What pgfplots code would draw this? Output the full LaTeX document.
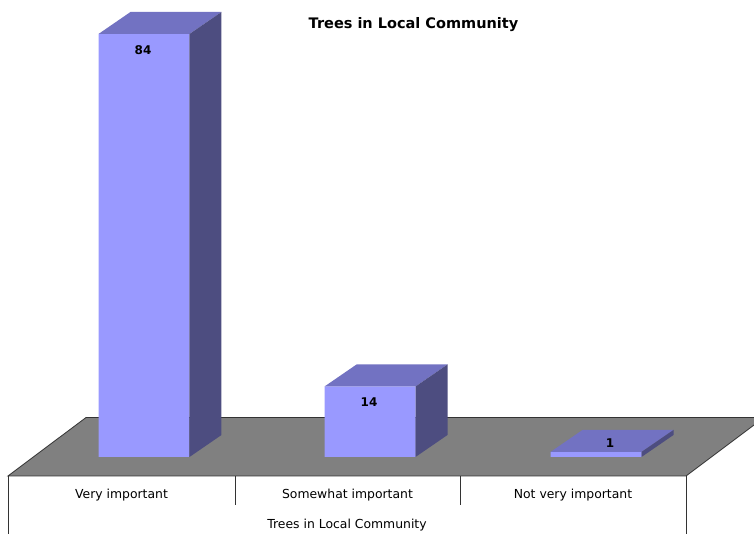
\documentclass[border=0pt]{standalone}
\usepackage{pgfplots}
\pgfplotsset{compat=1.18}
\usepackage{fontspec}
\setmainfont{DejaVu Sans}
\definecolor{barfront}{HTML}{9999FF}
\definecolor{bartop}{HTML}{7272C2}
\definecolor{barside}{HTML}{4D4D80}
\definecolor{floorgray}{HTML}{808080}
\begin{document}
\begin{tikzpicture}
\path[use as bounding box] (0,0) rectangle (754pt,534pt);
\begin{axis}[
  at={(0,0)}, anchor=south west,
  scale only axis, width=754pt, height=534pt,
  xmin=-0.63717, xmax=2.69912, ymin=-15.29, ymax=90.75,
  hide axis, clip=true,
]
% floor
\addplot[fill=floorgray, draw=black!80, line width=0.8pt] coordinates {(-0.6018,-3.773)(2.3982,-3.773)(2.7434,7.844)(-0.2566,7.844)} -- cycle;
% table lines
\addplot[black!80, line width=0.8pt] coordinates {(-0.6018,-3.773)(-0.6018,-15.29)};
\addplot[black!80, line width=0.8pt] coordinates {(2.3982,-3.773)(2.3982,-15.29)};
\addplot[black!80, line width=0.8pt] coordinates {(0.4027,-3.773)(0.4027,-9.532)};
\addplot[black!80, line width=0.8pt] coordinates {(1.3982,-3.773)(1.3982,-9.532)};
% bar front faces
\addplot[ybar, bar width=0.4026, fill=barfront, draw=none, bar shift=0pt] coordinates {(0,84)(1,14)(2,1)};
% tops
\addplot[fill=bartop, draw=none] coordinates {(-0.2013,84)(0.2013,84)(0.3429,88.369)(-0.0597,88.369)} -- cycle;
\addplot[fill=bartop, draw=none] coordinates {(0.7987,14)(1.2013,14)(1.3429,18.369)(0.9403,18.369)} -- cycle;
\addplot[fill=bartop, draw=none] coordinates {(1.7987,1)(2.2013,1)(2.3429,5.369)(1.9403,5.369)} -- cycle;
% sides
\addplot[fill=barside, draw=none] coordinates {(0.2013,0)(0.3429,4.369)(0.3429,88.369)(0.2013,84)} -- cycle;
\addplot[fill=barside, draw=none] coordinates {(1.2013,0)(1.3429,4.369)(1.3429,18.369)(1.2013,14)} -- cycle;
\addplot[fill=barside, draw=none] coordinates {(2.2013,0)(2.3429,4.369)(2.3429,5.369)(2.2013,1)} -- cycle;
% value labels
\node[font=\fontsize{12}{14}\selectfont\bfseries] at (axis cs:-0.0044,80.82) {84};
\node[font=\fontsize{12}{14}\selectfont\bfseries] at (axis cs:0.9956,10.92) {14};
\node[font=\fontsize{12}{14}\selectfont\bfseries] at (axis cs:2.062,2.78) {1};
% category labels
\node[font=\fontsize{12.4}{14}\selectfont] at (axis cs:-0.0996,-7.546) {Very important};
\node[font=\fontsize{12.4}{14}\selectfont] at (axis cs:0.9004,-7.546) {Somewhat important};
\node[font=\fontsize{12.4}{14}\selectfont] at (axis cs:1.8982,-7.546) {Not very important};
\node[font=\fontsize{12.4}{14}\selectfont] at (axis cs:0.8982,-13.50) {Trees in Local Community};
% title
\node[font=\fontsize{14.5}{17}\selectfont\bfseries] at (axis cs:1.1925,85.79) {Trees in Local Community};
\end{axis}
\end{tikzpicture}
\end{document}
